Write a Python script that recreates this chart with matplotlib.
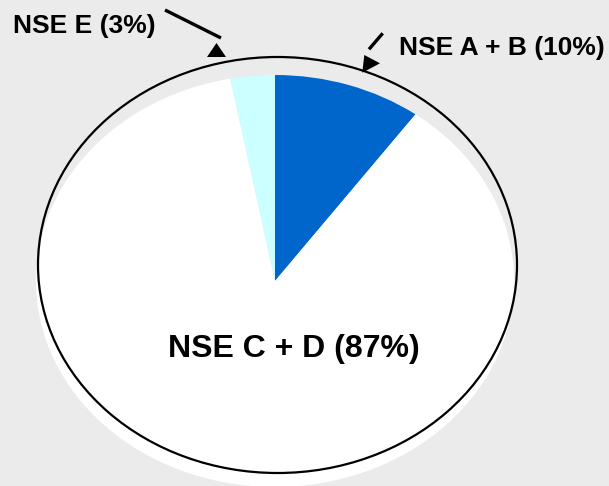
import matplotlib
matplotlib.use("Agg")
import matplotlib.pyplot as plt
from matplotlib.patches import Ellipse, Polygon

# Socio-economic level shares
segments = ["NSE A + B", "NSE C + D", "NSE E"]
shares = [10, 87, 3]
colors = ["#0066CC", "#FFFFFF", "#CCFFFF"]

W, H = 609, 486
fig = plt.figure(figsize=(W / 100, H / 100), dpi=100, facecolor="#EBEBEB")

# Pie, stretched into an ellipse by the axes box
px_left, px_right, px_top, px_bottom = 36, 514, 75, 487
ax = fig.add_axes([px_left / W, (H - px_bottom) / H,
                   (px_right - px_left) / W, (px_bottom - px_top) / H])
ax.pie(shares, colors=colors, startangle=90, counterclock=False, radius=1,
       wedgeprops=dict(linewidth=0))
ax.set_aspect("auto")
ax.set_xlim(-1, 1)
ax.set_ylim(-1, 1)
ax.axis("off")

# Overlay in pixel units for outline, leaders and labels
ov = fig.add_axes([0, 0, 1, 1])
ov.set_xlim(0, W)
ov.set_ylim(H, 0)
ov.axis("off")
ov.patch.set_alpha(0)

ov.add_patch(Ellipse((277.5, 265), 479, 416, fill=False, edgecolor="black", lw=1.6))

# Leader for NSE E
ov.plot([165, 221], [10, 38], color="black", lw=2.4, solid_capstyle="butt")
ov.add_patch(Polygon([(216.5, 43), (207, 57), (226, 57)], closed=True,
                     facecolor="black", edgecolor="none"))

# Leader for NSE A + B
ov.plot([382.7, 369], [33.3, 49.3], color="black", lw=2.4, solid_capstyle="butt")
ov.add_patch(Polygon([(364.3, 55), (380, 63.3), (362.3, 72.7)], closed=True,
                     facecolor="black", edgecolor="none"))

font = dict(family=["Liberation Sans", "DejaVu Sans"], weight="bold", color="black")
ov.text(13, 32.5, f"{segments[2]} ({shares[2]}%)", fontsize=19, ha="left", va="baseline", **font)
ov.text(399, 55, f"{segments[0]} ({shares[0]}%)", fontsize=19, ha="left", va="baseline", **font)
ov.text(294, 356.5, f"{segments[1]} ({shares[1]}%)", fontsize=23, ha="center", va="baseline", **font)

fig.savefig("out.png", dpi=100, facecolor=fig.get_facecolor())
